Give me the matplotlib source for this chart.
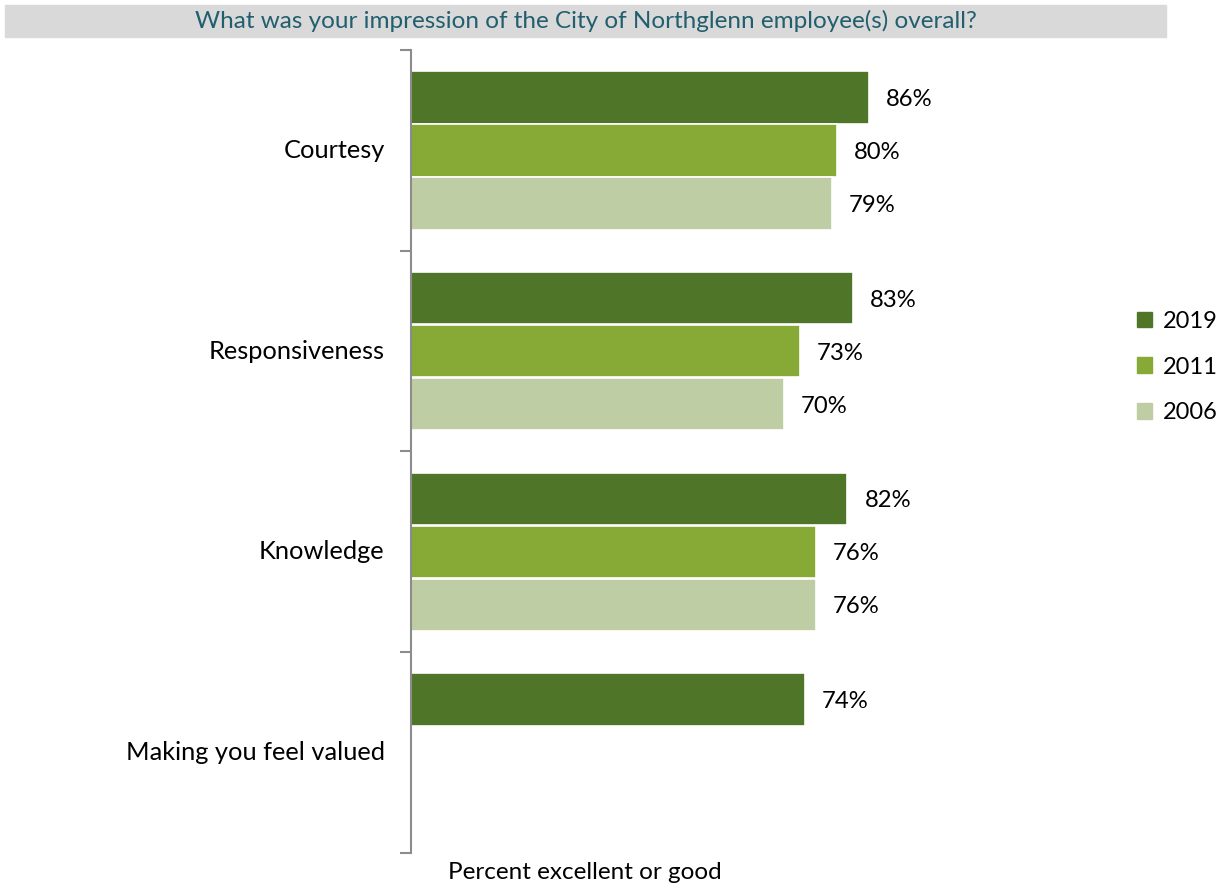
import matplotlib.pyplot as plt
from matplotlib.patches import Rectangle
import numpy as np

categories = ["Courtesy", "Responsiveness", "Knowledge", "Making you feel valued"]
years = ["2019", "2011", "2006"]
values_2019 = [86, 83, 82, 74]
values_2011 = [80, 73, 76, None]
values_2006 = [79, 70, 76, None]
colors = ["#4F7628", "#86AA35", "#BFCDA4"]

title = "What was your impression of the City of Northglenn employee(s) overall?"
xlabel = "Percent excellent or good"

plt.rcParams['font.family'] = ['Lato', 'DejaVu Sans']

W, H = 1227, 888
fig = plt.figure(figsize=(W / 100, H / 100), dpi=100)

# axes placement in pixels
left, right, top, bottom = 411, 1103, 50, 853
ax = fig.add_axes([left / W, 1 - bottom / H, (right - left) / W, (bottom - top) / H])

n = len(categories)
ax.set_ylim(n - 0.5, -0.5)
ax.set_xlim(0, 130)

series = [values_2019, values_2011, values_2006]
step = 0.264
bar_h = 0.262
for k, (vals, col, yr) in enumerate(zip(series, colors, years)):
    for i, v in enumerate(vals):
        if v is None:
            continue
        y = i + (k - 1) * step
        ax.barh(y, v, height=bar_h, color=col, edgecolor="white", linewidth=1.2,
                label=yr if i == 0 else None)
        ax.text(v + 3.2, y + 0.01, f"{v}%", va="center", ha="left", fontsize=17.2, color="black")

for s in ["top", "right", "bottom"]:
    ax.spines[s].set_visible(False)
ax.spines["left"].set_color("#8C8C8C")
ax.spines["left"].set_linewidth(1.5)

ax.set_xticks([])
# group boundary ticks
ax.set_yticks(np.arange(-0.5, n, 1.0))
ax.set_yticklabels([])
ax.tick_params(axis="y", length=8, width=1.5, color="#8C8C8C")
for i, c in enumerate(categories):
    ax.text(-0.038, i, c, transform=ax.get_yaxis_transform(), ha="right", va="center",
            fontsize=18.3, color="black")

# legend
handles = [Rectangle((0, 0), 1, 1, color=c) for c in colors]
fig.legend(handles, years, loc="center left", bbox_to_anchor=(1137 / W, 1 - 367 / H),
           frameon=False, fontsize=17, handlelength=0.65, handleheight=0.65,
           handletextpad=0.45, labelspacing=1.05, borderpad=0, borderaxespad=0)

# title band
fig.patches.append(Rectangle((5 / W, 1 - 37 / H), (1166 - 5) / W, 32 / H,
                             transform=fig.transFigure, color="#D9D9D9", zorder=0))
fig.text(586 / W, 1 - 21 / H, title, ha="center", va="center", fontsize=17.5,
         color="#215E6E")

fig.text(585 / W, 1 - 872 / H, xlabel, ha="center", va="center", fontsize=17.5, color="black")

fig.savefig("out.png", dpi=100)
